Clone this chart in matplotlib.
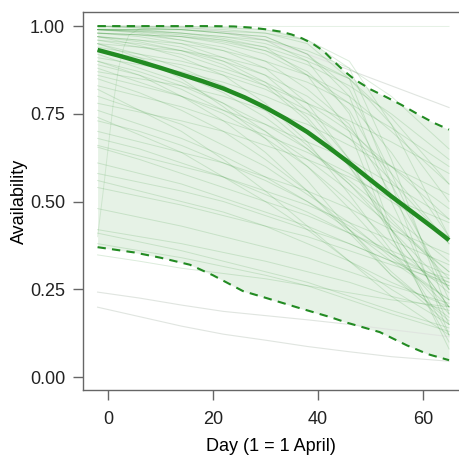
import matplotlib
matplotlib.use("Agg")
import matplotlib.pyplot as plt
import numpy as np

plt.rcParams['font.family'] = ['Liberation Sans', 'DejaVu Sans']

# posterior mean availability curve
mean_days = [-2, 2, 6, 10, 14, 18, 22, 26, 30, 34, 38, 42, 46, 50, 54, 58, 62, 65]
mean_vals = [0.932, 0.916, 0.899, 0.881, 0.862, 0.843, 0.822, 0.797, 0.768, 0.735,
             0.698, 0.655, 0.61, 0.562, 0.515, 0.47, 0.425, 0.39]

# upper / lower credible limits (dashed)
upper_days = [-2, 10, 20, 24, 27, 30, 33, 35, 37, 39, 41, 43, 45, 47, 50, 53, 56, 59.4, 62, 65]
upper_vals = [1.0, 1.0, 1.0, 0.999, 0.996, 0.991, 0.984, 0.976, 0.965, 0.95, 0.93, 0.90,
              0.872, 0.848, 0.82, 0.798, 0.775, 0.746, 0.725, 0.705]
lower_days = [-2, 5, 10, 15.6, 20, 25.7, 30.2, 36.6, 42.3, 45.5, 51.8, 57, 61, 65]
lower_vals = [0.37, 0.355, 0.34, 0.32, 0.29, 0.245, 0.225, 0.196, 0.171, 0.155, 0.128, 0.09, 0.065, 0.048]

# individual posterior draws, values at these days
draw_days = [-2, 6, 14, 22, 30, 38, 46, 54, 65]
green_draws = [
    [0.99, 0.988, 0.98, 0.97, 0.95, 0.91, 0.85, 0.74, 0.55],
    [0.99, 0.983, 0.97, 0.95, 0.92, 0.86, 0.78, 0.64, 0.40],
    [0.98, 0.975, 0.96, 0.94, 0.90, 0.82, 0.72, 0.52, 0.25],
    [0.99, 0.99, 0.99, 0.98, 0.97, 0.92, 0.80, 0.50, 0.15],
    [0.98, 0.97, 0.95, 0.91, 0.86, 0.76, 0.62, 0.42, 0.20],
    [0.97, 0.955, 0.93, 0.89, 0.83, 0.73, 0.60, 0.45, 0.28],
    [0.96, 0.94, 0.92, 0.88, 0.84, 0.78, 0.70, 0.60, 0.45],
    [0.99, 0.99, 0.98, 0.965, 0.94, 0.86, 0.70, 0.40, 0.10],
    [1.00, 0.995, 0.99, 0.98, 0.96, 0.90, 0.75, 0.42, 0.08],
    [0.97, 0.945, 0.91, 0.86, 0.78, 0.67, 0.52, 0.36, 0.18],
    [0.95, 0.92, 0.88, 0.83, 0.76, 0.66, 0.55, 0.42, 0.25],
    [0.94, 0.92, 0.90, 0.87, 0.83, 0.78, 0.73, 0.67, 0.58],
    [0.93, 0.90, 0.86, 0.81, 0.74, 0.65, 0.55, 0.44, 0.30],
    [0.99, 0.98, 0.96, 0.93, 0.88, 0.78, 0.62, 0.40, 0.12],
    [0.98, 0.975, 0.97, 0.955, 0.93, 0.89, 0.83, 0.75, 0.62],
    [0.99, 0.985, 0.98, 0.97, 0.96, 0.93, 0.88, 0.80, 0.65],
    [0.92, 0.88, 0.84, 0.78, 0.70, 0.60, 0.48, 0.35, 0.20],
    [0.90, 0.87, 0.83, 0.78, 0.72, 0.65, 0.56, 0.46, 0.33],
    [0.88, 0.84, 0.80, 0.75, 0.68, 0.60, 0.50, 0.38, 0.24],
    [0.86, 0.83, 0.80, 0.76, 0.72, 0.67, 0.62, 0.55, 0.45],
    [0.85, 0.81, 0.76, 0.70, 0.62, 0.53, 0.42, 0.30, 0.16],
    [0.83, 0.80, 0.77, 0.73, 0.69, 0.64, 0.58, 0.50, 0.40],
    [0.80, 0.76, 0.72, 0.66, 0.60, 0.52, 0.44, 0.34, 0.22],
    [0.78, 0.755, 0.73, 0.70, 0.66, 0.62, 0.57, 0.51, 0.44],
    [0.76, 0.72, 0.68, 0.63, 0.57, 0.50, 0.42, 0.33, 0.22],
    [0.73, 0.70, 0.66, 0.61, 0.56, 0.50, 0.43, 0.35, 0.26],
    [0.70, 0.67, 0.64, 0.61, 0.57, 0.53, 0.48, 0.42, 0.35],
    [0.66, 0.63, 0.60, 0.57, 0.53, 0.49, 0.44, 0.39, 0.32],
    [0.655, 0.62, 0.58, 0.54, 0.50, 0.46, 0.41, 0.36, 0.29],
    [0.61, 0.58, 0.55, 0.51, 0.47, 0.43, 0.38, 0.33, 0.26],
    [0.56, 0.53, 0.50, 0.47, 0.43, 0.38, 0.33, 0.27, 0.20],
    [0.54, 0.515, 0.49, 0.46, 0.43, 0.40, 0.36, 0.32, 0.27],
    [0.48, 0.455, 0.43, 0.40, 0.37, 0.34, 0.30, 0.26, 0.21],
    [0.42, 0.40, 0.38, 0.355, 0.33, 0.30, 0.27, 0.23, 0.19],
    [0.41, 0.385, 0.36, 0.33, 0.30, 0.27, 0.23, 0.19, 0.14],
    [0.38, 0.36, 0.34, 0.315, 0.29, 0.26, 0.22, 0.18, 0.13],
    [0.97, 0.96, 0.95, 0.93, 0.90, 0.86, 0.80, 0.70, 0.55],
    [0.95, 0.94, 0.93, 0.91, 0.88, 0.84, 0.78, 0.71, 0.60],
    [0.99, 0.99, 0.99, 0.985, 0.98, 0.96, 0.90, 0.72, 0.40],
    [0.98, 0.975, 0.97, 0.96, 0.94, 0.90, 0.85, 0.72, 0.50],
    [0.93, 0.91, 0.89, 0.86, 0.82, 0.76, 0.68, 0.56, 0.38],
    [0.91, 0.89, 0.87, 0.84, 0.80, 0.75, 0.68, 0.60, 0.48],
    [0.89, 0.86, 0.82, 0.76, 0.70, 0.62, 0.53, 0.43, 0.30],
    [0.87, 0.85, 0.83, 0.80, 0.76, 0.72, 0.66, 0.60, 0.52],
    [1.00, 1.00, 1.00, 0.995, 0.99, 0.96, 0.88, 0.62, 0.18],
    [1.00, 0.995, 0.99, 0.98, 0.97, 0.92, 0.82, 0.58, 0.22],
    [0.95, 0.91, 0.85, 0.77, 0.68, 0.56, 0.42, 0.29, 0.15],
    [0.82, 0.76, 0.70, 0.62, 0.53, 0.43, 0.33, 0.23, 0.12],
    [0.74, 0.69, 0.64, 0.57, 0.50, 0.42, 0.33, 0.25, 0.15],
    [0.68, 0.65, 0.61, 0.57, 0.52, 0.47, 0.41, 0.35, 0.27],
    [0.58, 0.555, 0.53, 0.50, 0.46, 0.42, 0.38, 0.33, 0.28],
    [0.348, 0.33, 0.31, 0.295, 0.28, 0.26, 0.24, 0.22, 0.20],
    [1.00, 1.00, 0.995, 0.99, 0.98, 0.95, 0.85, 0.55, 0.12],
    [0.99, 0.985, 0.975, 0.96, 0.93, 0.87, 0.76, 0.55, 0.25],
    [0.97, 0.96, 0.94, 0.90, 0.84, 0.74, 0.60, 0.42, 0.20],
    [0.96, 0.95, 0.93, 0.90, 0.86, 0.80, 0.71, 0.58, 0.38],
    [0.90, 0.86, 0.80, 0.73, 0.64, 0.53, 0.41, 0.29, 0.17],
]

# draws that fall outside the band (drawn pale grey)
grey_draws = [
    [0.242, 0.225, 0.205, 0.187, 0.175, 0.163, 0.15, 0.135, 0.115],
    [0.199, 0.172, 0.145, 0.122, 0.105, 0.087, 0.072, 0.058, 0.045],
    [0.999, 0.999, 0.998, 0.985, 0.96, 0.92, 0.875, 0.83, 0.768],
]
# one draw that rises steeply then stays near 1
rise_days = [-2, -1, 0, 1, 2, 3, 4, 6, 10, 30, 65]
rise_vals = [0.40, 0.52, 0.65, 0.78, 0.88, 0.94, 0.975, 0.992, 0.998, 0.999, 0.999]

green = '#228b22'

fig = plt.figure(figsize=(4.59, 4.57), dpi=100)
ax = fig.add_axes([0.181, 0.1466, 0.819, 0.827])

# band between the limits
band_days = np.union1d(upper_days, lower_days)
ax.fill_between(band_days, np.interp(band_days, lower_days, lower_vals),
                np.interp(band_days, upper_days, upper_vals),
                color=green, alpha=0.11, linewidth=0)

for d in grey_draws:
    ax.plot(draw_days, d, color='#e0e5e0', lw=0.8)
ax.plot(rise_days, rise_vals, color=green, alpha=0.12, lw=0.7)
for d in green_draws:
    ax.plot(draw_days, d, color=green, alpha=0.16, lw=0.7)

ax.plot(upper_days, upper_vals, color=green, lw=1.5, ls=(0, (4, 3)))
ax.plot(lower_days, lower_vals, color=green, lw=1.5, ls=(0, (4, 3)))
ax.plot(mean_days, mean_vals, color=green, lw=3.2, solid_capstyle='butt')

ax.set_xlim(-4.76, 66.9)
ax.set_ylim(-0.037, 1.04)
ax.set_xticks([0, 20, 40, 60])
ax.set_yticks([0, 0.25, 0.5, 0.75, 1.0])
ax.set_yticklabels(['0.00', '0.25', '0.50', '0.75', '1.00'])

ax.spines['right'].set_visible(False)
for s in ['left', 'top', 'bottom']:
    ax.spines[s].set_color('#666666')
    ax.spines[s].set_linewidth(1.0)
ax.tick_params(axis='both', length=7, width=1.0, color='#666666',
               labelsize=13, labelcolor='#222222', pad=6)
ax.tick_params(axis='x', pad=8)

ax.set_xlabel('Day (1 = 1 April)', fontsize=13, labelpad=7)
ax.set_ylabel('Availability', fontsize=13, labelpad=1)

fig.savefig('out.png', dpi=100)
